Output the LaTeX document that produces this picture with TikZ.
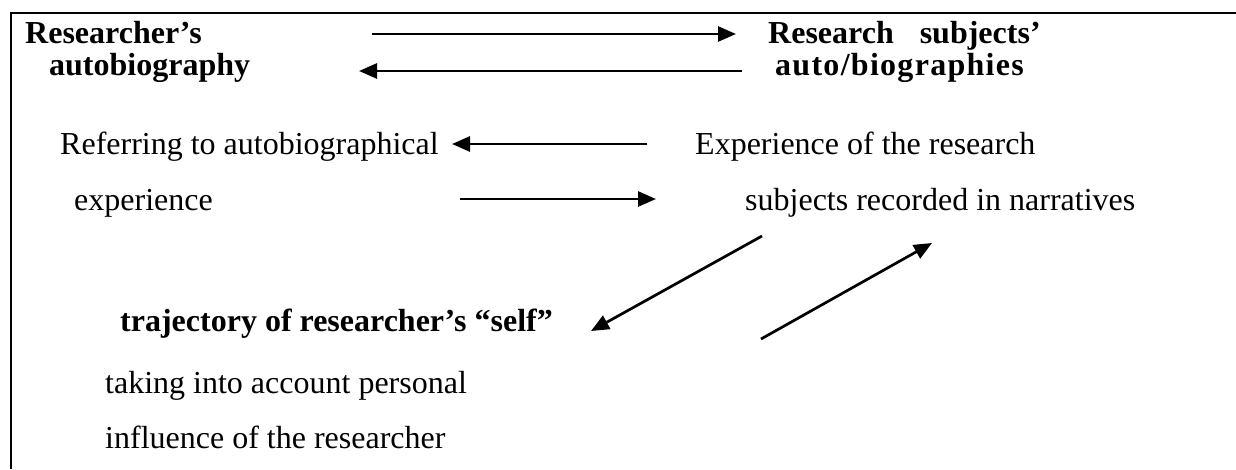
\documentclass[tikz,border=0pt]{standalone}
\usepackage{fontspec}
\setmainfont{Liberation Serif}
\usetikzlibrary{arrows.meta}
\begin{document}
\begin{tikzpicture}[x=1pt,y=-1pt,
  txt/.style={anchor=base west,inner sep=0pt,font=\fontsize{32}{38}\selectfont},
  btxt/.style={txt,font=\fontsize{32}{38}\selectfont\bfseries},
  arr/.style={line width=2.7pt,-{Triangle[length=18pt,width=15pt]}},
  frame/.style={line width=2.6pt}]
\useasboundingbox (0,0) rectangle (1236,469);
\draw[frame] (11,469) -- (11,13) -- (1236,13);
% texts
\node[btxt] (r1) at (25,43) {Researcher’s};
\node[btxt] (r2) at (49,75) {autobiography};
\node[btxt] (s1) at (768,43) {Research\hspace{26pt}subjects’};
\node[btxt] (s2) at (775,75) {\addfontfeature{LetterSpace=4}auto/biographies};
\node[txt] (e1) at (60,154) {Referring to autobiographical};
\node[txt] (e2) at (74,210) {experience};
\node[txt] (x1) at (695,154) {Experience of the research};
\node[txt] (x2) at (745,210) {subjects recorded in narratives};
\node[btxt] (t1) at (120,331) {trajectory of researcher’s “self”};
\node[txt] (t2) at (105,393) {taking into account personal};
\node[txt] (t3) at (105,448) {influence of the researcher};
% arrow ends
\coordinate (a1s) at (372,34); \coordinate (a1e) at (736,34);
\coordinate (a2s) at (742,71); \coordinate (a2e) at (359,71);
\coordinate (a3s) at (647,144); \coordinate (a3e) at (452,144);
\coordinate (a4s) at (460,199); \coordinate (a4e) at (656,199);
\coordinate (a5s) at (762,236); \coordinate (a5e) at (591,331);
\coordinate (a6s) at (761,339); \coordinate (a6e) at (932,243);
\draw[arr] (a1s) -- (a1e);
\draw[arr] (a2s) -- (a2e);
\draw[arr] (a3s) -- (a3e);
\draw[arr] (a4s) -- (a4e);
\draw[arr] (a5s) -- (a5e);
\draw[arr] (a6s) -- (a6e);
\end{tikzpicture}
\end{document}
